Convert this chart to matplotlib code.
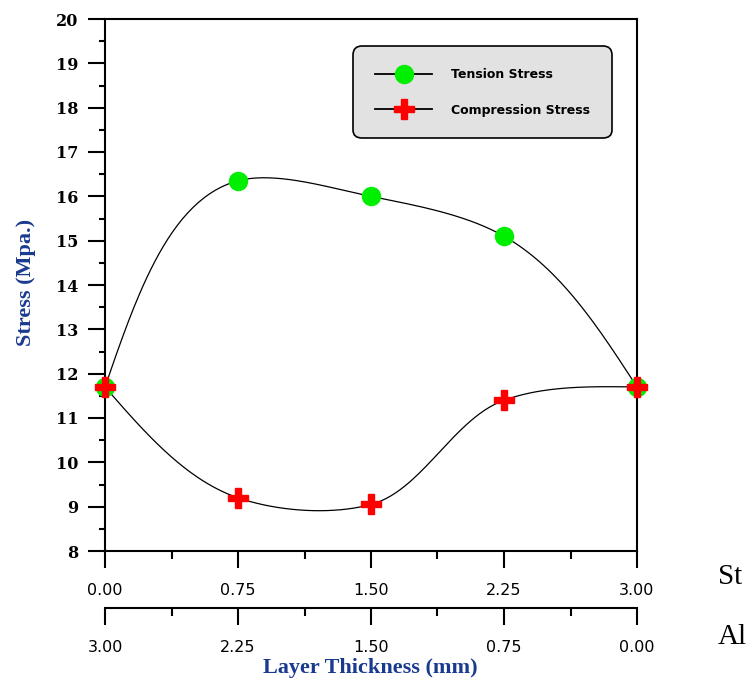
import numpy as np
import matplotlib
matplotlib.use("Agg")
import matplotlib.pyplot as plt
from matplotlib.ticker import MultipleLocator, FormatStrFormatter

# layer thickness (mm) and stresses
thickness = [0.00, 0.75, 1.50, 2.25, 3.00]
al_thickness_ticks = ["3.00", "2.25", "1.50", "0.75", "0.00"]
tension = [11.7, 16.35, 16.0, 15.1, 11.7]
compression = [11.7, 9.2, 9.05, 11.4, 11.7]


def smooth(x, y, sx, sy, n=60):
    # chord-length Catmull-Rom in screen units, natural ends
    P = np.column_stack([np.asarray(x, float) * sx, np.asarray(y, float) * sy])
    D = np.diff(P, axis=0)
    d = np.hypot(D[:, 0], D[:, 1])
    u = D / d[:, None]
    k = len(P)
    V = np.zeros_like(P)
    for i in range(1, k - 1):
        V[i] = (d[i] * u[i - 1] + d[i - 1] * u[i]) / (d[i - 1] + d[i])
    out = []
    s = np.linspace(0, 1, n)[:, None]
    for i in range(k - 1):
        ma = V[i] * d[i]
        mb = V[i + 1] * d[i]
        if i == 0:
            ma = 1.5 * D[i] - 0.5 * mb
        if i == k - 2:
            mb = 1.5 * D[i] - 0.5 * ma
        seg = ((2 * s**3 - 3 * s**2 + 1) * P[i] + (s**3 - 2 * s**2 + s) * ma
               + (-2 * s**3 + 3 * s**2) * P[i + 1] + (s**3 - s**2) * mb)
        out.append(seg)
    out = np.vstack(out)
    return out[:, 0] / sx, out[:, 1] / sy


W, H = 750, 686
fig = plt.figure(figsize=(W / 100, H / 100), dpi=100)
left, right, top, bottom = 105, 637, 19, 551
ax = fig.add_axes([left / W, 1 - bottom / H, (right - left) / W, (bottom - top) / H])

blue = "#1a3a8f"
green = "#00ee00"
red = "#ff0000"

ax.set_xlim(0, 3)
ax.set_ylim(8, 20)
sx = (right - left) / 3.0
sy = (bottom - top) / 12.0

xs, ys = smooth(thickness, tension, sx, sy)
ax.plot(xs, ys, color="black", lw=0.9, zorder=2)
xs, ys = smooth(thickness, compression, sx, sy)
ax.plot(xs, ys, color="black", lw=0.9, zorder=2)

ax.plot(thickness, tension, "o", color=green, ms=13, mec=green, zorder=3, clip_on=False)
ax.plot(thickness, compression, "P", color=red, ms=15, mec=red, zorder=4, clip_on=False)

ax.xaxis.set_major_locator(MultipleLocator(0.75))
ax.xaxis.set_minor_locator(MultipleLocator(0.375))
ax.yaxis.set_major_locator(MultipleLocator(1))
ax.yaxis.set_minor_locator(MultipleLocator(0.5))
ax.xaxis.set_major_formatter(FormatStrFormatter("%.2f"))

for s in ax.spines.values():
    s.set_linewidth(1.5)
ax.tick_params(axis="both", which="both", direction="out", width=1.5,
               top=False, right=False)
ax.tick_params(axis="y", which="major", length=12, pad=7)
ax.tick_params(axis="y", which="minor", length=4)
ax.tick_params(axis="x", which="major", length=12, pad=11)
ax.tick_params(axis="x", which="minor", length=6)
for lab in ax.get_yticklabels():
    lab.set_fontfamily("DejaVu Serif")
    lab.set_fontweight("bold")
    lab.set_fontsize(11.5)
for lab in ax.get_xticklabels():
    lab.set_fontfamily("DejaVu Sans")
    lab.set_fontsize(11.5)

ax.set_ylabel("Stress (Mpa.)", fontsize=16, fontweight="bold",
              family="Liberation Serif", color=blue)
ax.yaxis.set_label_coords(-0.13, 0.505)

# second thickness axis (aluminium layer), reversed
ax2 = fig.add_axes([left / W, 1 - 608 / H, (right - left) / W, 0.0001])
ax2.set_xlim(0, 3)
ax2.set_xticks(thickness)
ax2.set_xticklabels(al_thickness_ticks, family="DejaVu Sans", fontsize=11.5)
ax2.xaxis.set_minor_locator(MultipleLocator(0.375))
ax2.set_yticks([])
for k in ["top", "left", "right"]:
    ax2.spines[k].set_visible(False)
ax2.spines["bottom"].set_linewidth(1.5)
ax2.tick_params(axis="x", which="both", direction="out", width=1.5)
ax2.tick_params(axis="x", which="major", length=12, pad=11)
ax2.tick_params(axis="x", which="minor", length=6)
ax2.patch.set_visible(False)

fig.text(370 / W, 1 - 668 / H, "Layer Thickness (mm)", ha="center", va="center",
         fontsize=16, fontweight="bold", family="Liberation Serif", color=blue)
fig.text(718 / W, 1 - 577 / H, "St", ha="left", va="center",
         fontsize=21, family="Liberation Serif")
fig.text(718 / W, 1 - 637 / H, "Al", ha="left", va="center",
         fontsize=21, family="Liberation Serif")

handles = [plt.Line2D([], [], color="black", lw=1.3, marker="o", ms=13,
                      mfc=green, mec=green),
           plt.Line2D([], [], color="black", lw=1.3, marker="P", ms=15,
                      mfc=red, mec=red)]
leg = ax.legend(handles=handles, labels=["Tension Stress", "Compression Stress"],
                loc="upper right", bbox_to_anchor=(0.953, 0.949), borderaxespad=0,
                fancybox=True, framealpha=1, facecolor="#e2e2e2", edgecolor="black",
                borderpad=1.75, labelspacing=1.8, handlelength=4.6, handletextpad=1.5,
                prop={"family": "DejaVu Sans", "weight": "bold", "size": 9})
leg.get_frame().set_linewidth(1.2)
leg.get_frame().set_boxstyle("round,pad=0,rounding_size=0.7")

fig.savefig("out.png", dpi=100)
